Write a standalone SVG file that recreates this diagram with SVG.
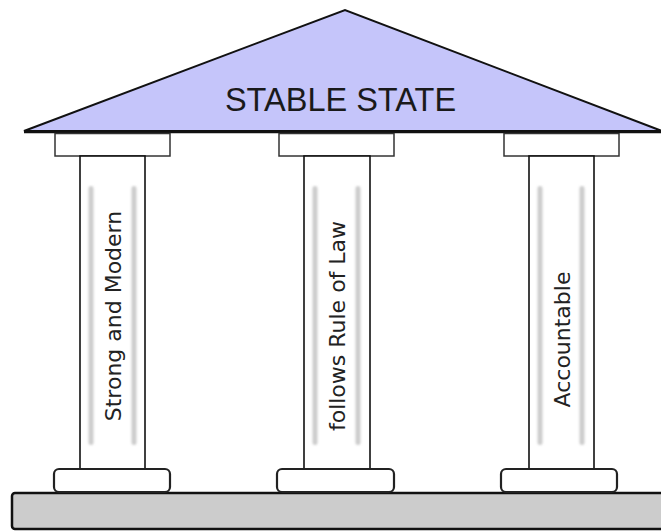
<svg xmlns="http://www.w3.org/2000/svg" width="661" height="532" viewBox="0 0 661 532">
<defs>
<style>
.cap{fill:#fff;stroke:#333;stroke-width:1.5}
.shaft{fill:#fff;stroke:#111;stroke-width:1.6}
.base{fill:#fff;stroke:#222;stroke-width:2.2}
.stripe{fill:#cdcdcd;filter:url(#blur)}
.vt{font-family:"DejaVu Sans",sans-serif;font-size:22px;fill:#222;text-anchor:middle}
</style>
<filter id="blur" x="-100%" y="-5%" width="300%" height="110%"><feGaussianBlur stdDeviation="1.1"/></filter>
</defs>
<rect width="661" height="532" fill="#fff"/>
<g id="floor">
<rect x="12" y="493" width="660" height="36" rx="3" fill="#cccccc" stroke="#111" stroke-width="2.5"/>
</g>
<g id="roof">
<polygon points="24,131 345,10 662,131" fill="#c5c5fa" stroke="#111" stroke-width="2" stroke-linejoin="miter"/>
<line x1="24" y1="132" x2="661" y2="132" stroke="#111" stroke-width="2.5"/>
<text x="340.5" y="111" font-family="Liberation Sans, Arial, sans-serif" font-size="32.5" fill="#1a1a1a" text-anchor="middle">STABLE STATE</text>
</g>
<g id="pillar-1">
<rect class="cap" x="55" y="133.5" width="115" height="22.5"/>
<rect class="shaft" x="80" y="156" width="65" height="313"/>
<rect class="stripe" x="88.5" y="186" width="5" height="259" rx="2.5"/>
<rect class="stripe" x="131.5" y="186" width="5" height="259" rx="2.5"/>
<rect class="base" x="54" y="469" width="116" height="23" rx="5"/>
<text class="vt" transform="translate(120.5,316) rotate(-90)">Strong and Modern</text>
</g>
<g id="pillar-2">
<rect class="cap" x="279" y="133.5" width="115" height="22.5"/>
<rect class="shaft" x="304" y="156" width="66" height="313"/>
<rect class="stripe" x="312.5" y="186" width="5" height="259" rx="2.5"/>
<rect class="stripe" x="355.5" y="186" width="5" height="259" rx="2.5"/>
<rect class="base" x="277" y="469" width="117" height="23" rx="5"/>
<text class="vt" transform="translate(345,326) rotate(-90)">follows Rule of Law</text>
</g>
<g id="pillar-3">
<rect class="cap" x="504" y="133.5" width="115" height="22.5"/>
<rect class="shaft" x="529" y="156" width="65" height="313"/>
<rect class="stripe" x="537.5" y="186" width="5" height="259" rx="2.5"/>
<rect class="stripe" x="579.5" y="186" width="5" height="259" rx="2.5"/>
<rect class="base" x="501" y="469" width="116" height="23" rx="5"/>
<text class="vt" transform="translate(569.5,339.5) rotate(-90)">Accountable</text>
</g>
<g id="connectors"/>
</svg>
